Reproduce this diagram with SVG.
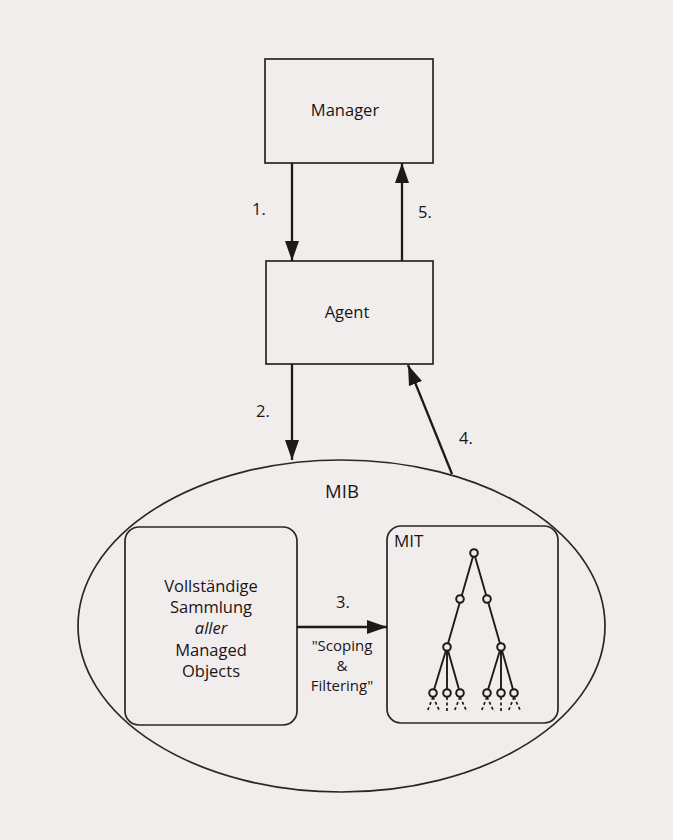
<svg xmlns="http://www.w3.org/2000/svg" width="673" height="840" viewBox="0 0 673 840">
<style>
  .bg{fill:#f2eded}
  .box{fill:none;stroke:#2b2525;stroke-width:1.7}
  .con{fill:none;stroke:#1f1a1a;stroke-width:2.3}
  .tree{fill:none;stroke:#1f1a1a;stroke-width:1.9}
  .dash{fill:none;stroke:#1f1a1a;stroke-width:1.7;stroke-dasharray:3 2.5}
  .node{fill:#f2eded;stroke:#1f1a1a;stroke-width:2}
  text{font-family:"Open Sans","Noto Sans","DejaVu Sans",sans-serif;fill:#1a1515;font-size:16.5px}
  .c{text-anchor:middle}
  .s{font-size:15px}
</style>
<defs>
  <marker id="ah" markerUnits="userSpaceOnUse" markerWidth="22" markerHeight="14" refX="20" refY="7" orient="auto">
    <path d="M0,0 L20,7 L0,14 Z" fill="#1f1a1a"/>
  </marker>
</defs>
<rect class="bg" x="0" y="0" width="673" height="840"/>

<g id="manager">
  <rect class="box" x="265" y="59" width="168" height="104"/>
  <text class="c" x="345" y="116">Manager</text>
</g>
<g id="agent">
  <rect class="box" x="266" y="261" width="167" height="103"/>
  <text class="c" x="347" y="318">Agent</text>
</g>
<g id="mib">
  <ellipse class="box" cx="341.5" cy="626" rx="263.5" ry="166"/>
  <text class="c" x="342" y="498" style="font-size:18.5px">MIB</text>
</g>
<g id="collection">
  <rect class="box" x="125" y="527" width="172" height="198" rx="14"/>
  <text class="c" x="211" y="592">Vollständige</text>
  <text class="c" x="211" y="613">Sammlung</text>
  <text class="c" x="211" y="634" font-style="italic">aller</text>
  <text class="c" x="211" y="656">Managed</text>
  <text class="c" x="211" y="677">Objects</text>
</g>
<g id="mit">
  <rect class="box" x="387" y="526" width="171" height="197" rx="14"/>
  <text x="394" y="547" style="font-size:17px">MIT</text>
  <g id="tree">
    <path class="tree" d="M474,553 L447,647 M474,553 L501,647 M447,647 L433,693 M447,647 L447,693 M447,647 L460,693 M501,647 L487,693 M501,647 L501,693 M501,647 L514,693"/>
    <path class="dash" d="M433,697 L427,712 M433,697 L440,712 M447,697 L447,712 M460,697 L454,712 M460,697 L467,712 M487,697 L481,712 M487,697 L494,712 M501,697 L501,712 M514,697 L508,712 M514,697 L521,712"/>
    <circle class="node" cx="474" cy="553" r="3.8"/>
    <circle class="node" cx="460" cy="599" r="3.8"/>
    <circle class="node" cx="487" cy="599" r="3.8"/>
    <circle class="node" cx="447" cy="647" r="3.8"/>
    <circle class="node" cx="501" cy="647" r="3.8"/>
    <circle class="node" cx="433" cy="693" r="3.8"/>
    <circle class="node" cx="447" cy="693" r="3.8"/>
    <circle class="node" cx="460" cy="693" r="3.8"/>
    <circle class="node" cx="487" cy="693" r="3.8"/>
    <circle class="node" cx="501" cy="693" r="3.8"/>
    <circle class="node" cx="514" cy="693" r="3.8"/>
  </g>
</g>

<g id="connectors">
  <line class="con" x1="292" y1="163" x2="292" y2="261" marker-end="url(#ah)"/>
  <line class="con" x1="402" y1="261" x2="402" y2="163" marker-end="url(#ah)"/>
  <line class="con" x1="292" y1="364" x2="292" y2="460" marker-end="url(#ah)"/>
  <line class="con" x1="452" y1="474" x2="408" y2="365" marker-end="url(#ah)"/>
  <line class="con" x1="297" y1="627" x2="387" y2="627" marker-end="url(#ah)"/>
  <text x="252" y="215">1.</text>
  <text x="418" y="218">5.</text>
  <text x="256" y="417">2.</text>
  <text x="459" y="444">4.</text>
  <text class="c" x="343" y="608">3.</text>
  <text class="c s" x="342" y="651">"Scoping</text>
  <text class="c s" x="342" y="671">&amp;</text>
  <text class="c s" x="342" y="691">Filtering"</text>
</g>
</svg>
